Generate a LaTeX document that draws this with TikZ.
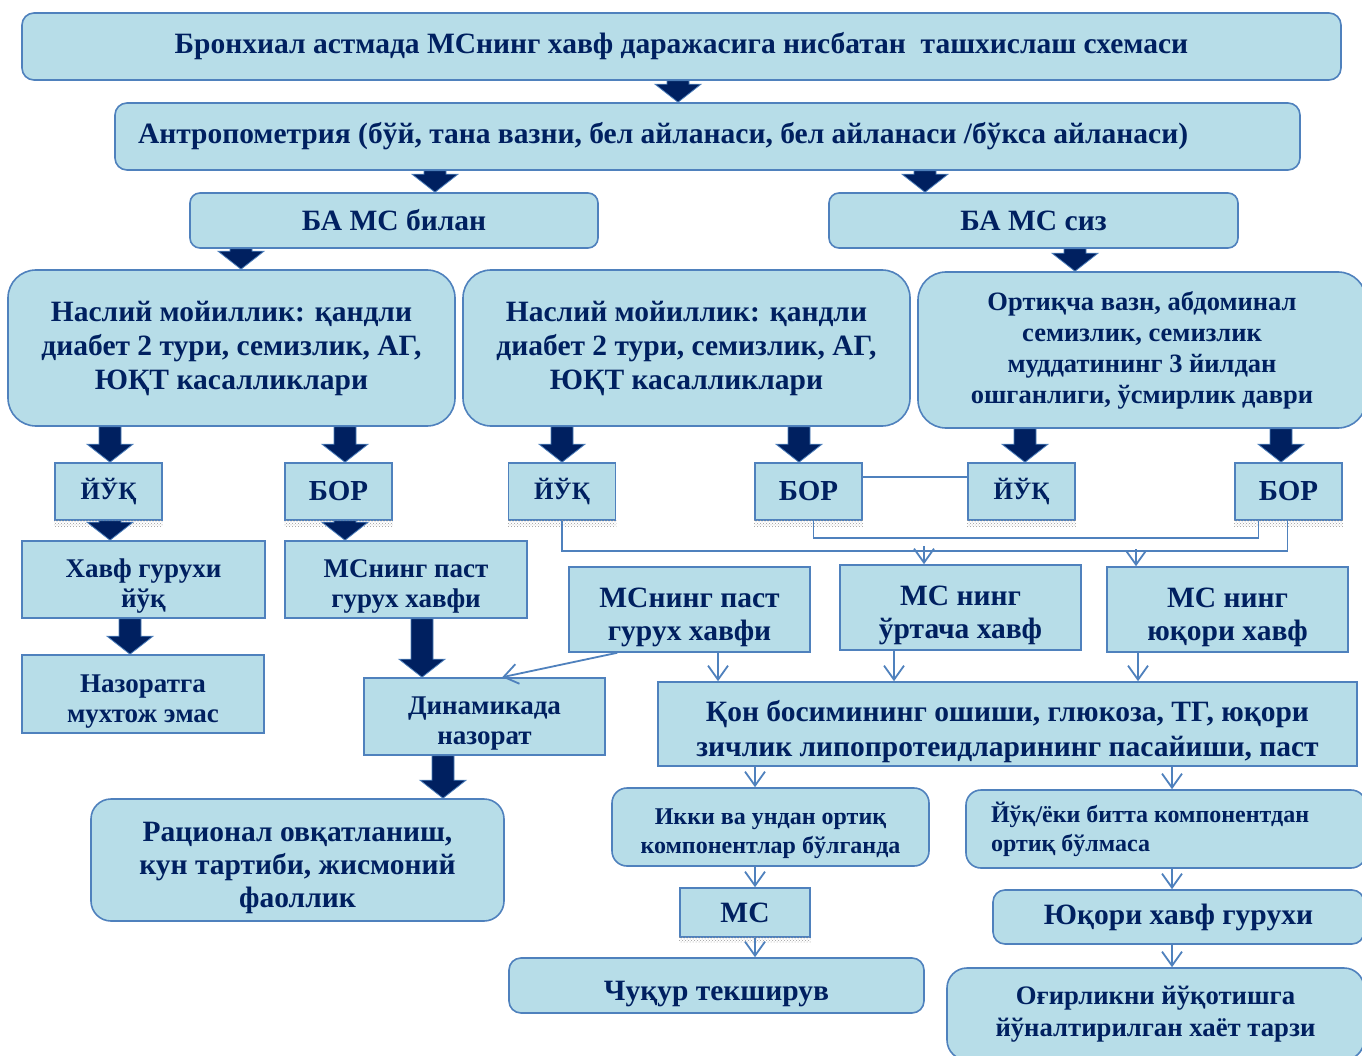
\documentclass[tikz,border=0pt]{standalone}
\usepackage{fontspec}
\setmainfont{Liberation Serif}
\usetikzlibrary{arrows.meta, calc, patterns}

\definecolor{boxfill}{HTML}{B7DDE8}
\definecolor{boxline}{HTML}{4F81BD}
\definecolor{navy}{HTML}{002060}

% thick dark block arrow pointing down from #1 to #2
\newcommand{\blockarrow}[2]{%
  \fill[navy, draw=boxline, line width=0.8pt] let \p1=(#1), \p2=(#2) in
    (\x1-11pt,\y1) -- (\x1-11pt,\y2+18pt) -- (\x1-23pt,\y2+18pt) -- (\x1,\y2)
    -- (\x1+23pt,\y2+18pt) -- (\x1+11pt,\y2+18pt) -- (\x1+11pt,\y1) -- cycle;}
% taller first line, so the text sits a little lower in its box
\newcommand{\topgap}{\rule{0pt}{1.2em}}

\begin{document}
\begin{tikzpicture}[x=1pt, y=-1pt,
    box/.style={draw=boxline, fill=boxfill, line width=1.6pt, text=navy, align=center,
        inner sep=0pt, font=\fontsize{29.5}{33}\selectfont\bfseries},
    rbox/.style={box, rounded corners=12pt},
    sq/.style={box, minimum width=107pt, minimum height=57pt, font=\fontsize{29}{33}\selectfont\bfseries},
    no/.style={font=\fontsize{25}{30}\selectfont\bfseries},
    small/.style={font=\fontsize{27}{30}\selectfont\bfseries},
    tiny/.style={font=\fontsize{24}{29}\selectfont\bfseries},
    link/.style={draw=boxline, line width=1.8pt},
    thinarrow/.style={link, -{Straight Barb[length=14pt, width=20pt]}},
    strip/.style={pattern=crosshatch dots, pattern color=gray!80}]

    \useasboundingbox[fill=white] (0,0) rectangle (1362,1056);

    % Top of the scheme
    \node[rbox, minimum width=1319pt, minimum height=67pt] (title) at (681.5,46.5)
        {Бронхиал астмада МСнинг хавф даражасига нисбатан~ ташхислаш схемаси};
    \node[rbox, minimum width=1185pt, minimum height=67pt, text width=1139pt, align=flush left] (antro) at (707.5,136.5)
        {Антропометрия (бўй, тана вазни, бел айланаси, бел айланаси /бўкса айланаси)};
    \node[rbox, rounded corners=10pt, minimum width=408pt, minimum height=55pt] (bamcb) at (394,220.5) {БА МС билан};
    \node[rbox, rounded corners=10pt, minimum width=409pt, minimum height=55pt] (bamcs) at (1033.5,220.5) {БА МС сиз};

    % Heredity and weight
    \node[rbox, rounded corners=28pt, minimum width=447pt, minimum height=156pt, font=\fontsize{29.5}{34}\selectfont\bfseries] (nasl1) at (231.5,348)
        {Наслий мойиллик: қандли\\диабет 2 тури, семизлик, АГ,\\ЮҚТ касалликлари};
    \node[rbox, rounded corners=28pt, minimum width=447pt, minimum height=156pt, font=\fontsize{29.5}{34}\selectfont\bfseries] (nasl2) at (686.5,348)
        {Наслий мойиллик: қандли\\диабет 2 тури, семизлик, АГ,\\ЮҚТ касалликлари};
    \node[rbox, rounded corners=28pt, minimum width=448pt, minimum height=156pt, font=\fontsize{26.5}{31}\selectfont\bfseries] (ortik) at (1142,350)
        {Ортиқча вазн, абдоминал\\семизлик, семизлик\\муддатининг 3 йилдан\\ошганлиги, ўсмирлик даври};

    % Yes / no boxes
    \node[sq, no] (yuq1) at (108.5,491.5) {ЙЎҚ};
    \node[sq] (bor1) at (338.5,491.5) {БОР};
    \node[sq, no] (yuq2) at (562,491.5) {ЙЎҚ};
    \node[sq] (bor2) at (808.5,491.5) {БОР};
    \node[sq, no] (yuq3) at (1021.5,491.5) {ЙЎҚ};
    \node[sq] (bor3) at (1288.5,491.5) {БОР};

    % Left branch
    \node[box, small, minimum width=243pt, minimum height=77pt] (xavf1) at (143.5,579.5) {\topgap Хавф гурухи\\йўқ};
    \node[box, small, minimum width=242pt, minimum height=77pt] (mspast1) at (406,579.5) {\topgap МСнинг паст\\гурух хавфи};
    \node[box, small, minimum width=242pt, minimum height=78pt] (nazor) at (143,694) {\topgap Назоратга\\мухтож эмас};
    \node[box, small, minimum width=241pt, minimum height=77pt] (dinam) at (484.5,716.5) {\topgap Динамикада\\назорат};
    \node[rbox, rounded corners=20pt, minimum width=413pt, minimum height=122pt] (ratsion) at (297.5,860)
        {\topgap Рационал овқатланиш,\\кун тартиби, жисмоний\\фаоллик};

    % Right branch
    \node[box, minimum width=241pt, minimum height=85pt] (mspast2) at (689.5,609.5) {\topgap МСнинг паст\\гурух хавфи};
    \node[box, minimum width=241pt, minimum height=85pt] (msurt) at (960.5,607.5) {\topgap МС нинг\\ўртача хавф};
    \node[box, minimum width=241pt, minimum height=85pt] (msyuq) at (1227.5,609.5) {\topgap МС нинг\\юқори хавф};
    \node[box, minimum width=699pt, minimum height=84pt, font=\fontsize{29.5}{35}\selectfont\bfseries] (qon) at (1007.5,724)
        {\topgap Қон босимининг ошиши, глюкоза, ТГ, юқори\\зичлик липопротеидларининг пасайиши, паст};
    \node[rbox, tiny, rounded corners=15pt, minimum width=317pt, minimum height=78pt] (ikki) at (770.5,827)
        {\topgap Икки ва ундан ортиқ\\компонентлар бўлганда};
    \node[rbox, tiny, rounded corners=15pt, minimum width=400pt, minimum height=78pt, text width=350pt, align=flush left] (yuqeki) at (1166,829)
        {Йўқ/ёки битта компонентдан\\ортиқ бўлмаса};
    \node[box, minimum width=130pt, minimum height=49pt] (ms) at (745,912.5) {МС};
    \node[rbox, minimum width=415pt, minimum height=55pt] (chuqur) at (716.5,985.5) {\topgap Чуқур текширув};
    \node[rbox, minimum width=371pt, minimum height=54pt] (yuqori) at (1178.5,917) {Юқори хавф гурухи};
    \node[rbox, rounded corners=20pt, minimum width=417pt, minimum height=92pt, font=\fontsize{26.7}{32}\selectfont\bfseries] (ogir) at (1155.5,1014)
        {Оғирликни йўқотишга\\йўналтирилган хаёт тарзи};

    % Shadows under the small boxes
    \fill[strip] (yuq1.south west) rectangle ([yshift=-6pt]yuq1.south east);
    \fill[strip] (bor1.south west) rectangle ([yshift=-6pt]bor1.south east);
    \fill[strip] (yuq2.south west) rectangle ([yshift=-6pt]yuq2.south east);
    \fill[strip] (bor2.south west) rectangle ([yshift=-6pt]bor2.south east);
    \fill[strip] (yuq3.south west) rectangle ([yshift=-6pt]yuq3.south east);
    \fill[strip] (bor3.south west) rectangle ([yshift=-6pt]bor3.south east);
    \fill[strip] (ms.south west) rectangle ([yshift=-5pt]ms.south east);

    % Block arrows
    \blockarrow{678,0 |- title.south}{678,0 |- antro.north}
    \blockarrow{435,0 |- antro.south}{435,0 |- bamcb.north}
    \blockarrow{925,0 |- antro.south}{925,0 |- bamcs.north}
    \blockarrow{241,0 |- bamcb.south}{241,0 |- nasl1.north}
    \blockarrow{1075,0 |- bamcs.south}{1075,0 |- ortik.north}
    \blockarrow{110,0 |- nasl1.south}{110,0 |- yuq1.north}
    \blockarrow{345,0 |- nasl1.south}{345,0 |- bor1.north}
    \blockarrow{562,0 |- nasl2.south}{562,0 |- yuq2.north}
    \blockarrow{799,0 |- nasl2.south}{799,0 |- bor2.north}
    \blockarrow{1025,0 |- ortik.south}{1025,0 |- yuq3.north}
    \blockarrow{1281,0 |- ortik.south}{1281,0 |- bor3.north}
    \blockarrow{110,0 |- yuq1.south}{110,0 |- xavf1.north}
    \blockarrow{345,0 |- bor1.south}{345,0 |- mspast1.north}
    \blockarrow{130,0 |- xavf1.south}{130,0 |- nazor.north}
    \blockarrow{422,0 |- mspast1.south}{422,0 |- dinam.north}
    \blockarrow{443,0 |- dinam.south}{443,0 |- ratsion.north}

    % Thin connectors
    \draw[link] (bor2.east |- 0,477) -- (yuq3.west |- 0,477);
    \draw[link] ([xshift=5pt]bor2.south) -- ++(0,17) -| ([xshift=-30pt]bor3.south);
    \draw[link] (yuq2.south) -- ++(0,30) -| ([xshift=-1pt]bor3.south);
    \coordinate (busU) at (924,546);
    \coordinate (busV) at (1136,549);
    \draw[thinarrow] (busU) -- (busU |- msurt.north);
    \draw[thinarrow] (busV) -- (busV |- msyuq.north);
    \draw[thinarrow] ([xshift=49pt]mspast2.south west) -- ([xshift=139pt]dinam.north west);
    \draw[thinarrow] (718,0 |- mspast2.south) -- (718,0 |- qon.north);
    \draw[thinarrow] (894,0 |- msurt.south) -- (894,0 |- qon.north);
    \draw[thinarrow] (1138,0 |- msyuq.south) -- (1138,0 |- qon.north);
    \draw[thinarrow] (755,0 |- qon.south) -- (755,0 |- ikki.north);
    \draw[thinarrow] (1172,0 |- qon.south) -- (1172,0 |- yuqeki.north);
    \draw[thinarrow] (755,0 |- ikki.south) -- (755,0 |- ms.north);
    \draw[thinarrow] (755,0 |- ms.south) -- (755,0 |- chuqur.north);
    \draw[thinarrow] (1172,0 |- yuqeki.south) -- (1172,0 |- yuqori.north);
    \draw[thinarrow] (1172,0 |- yuqori.south) -- (1172,0 |- ogir.north);
\end{tikzpicture}
\end{document}
